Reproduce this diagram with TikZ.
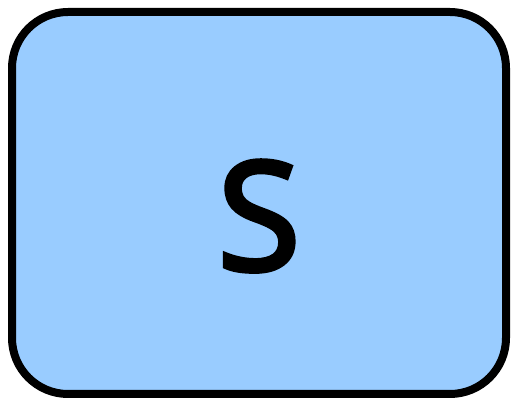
\documentclass[tikz,border=0pt]{standalone}
\usepackage{fontspec}
\setmainfont{Open Sans}
\newfontfamily\letterfont{Open Sans}[FakeBold=3.2]
\usepackage{xcolor}
\usepackage{tikz}
\usetikzlibrary{positioning}
\definecolor{boxblue}{HTML}{99CCFF}

\begin{document}
\begin{tikzpicture}[
    x=1pt, y=1pt,
    statebox/.style={draw, fill=boxblue, line width=8pt, rounded corners=56pt, minimum width=494pt, minimum height=382pt, inner sep=0pt},
    bigletter/.style={font=\letterfont\fontsize{151}{156}\selectfont, inner sep=0pt, anchor=base}
  ]
    \useasboundingbox (0,0) rectangle (512,401);
    \node[statebox] (box) at (259,198) {};
    \node[bigletter] (letter) at (259,131) {S};
  \end{tikzpicture}
\end{document}
